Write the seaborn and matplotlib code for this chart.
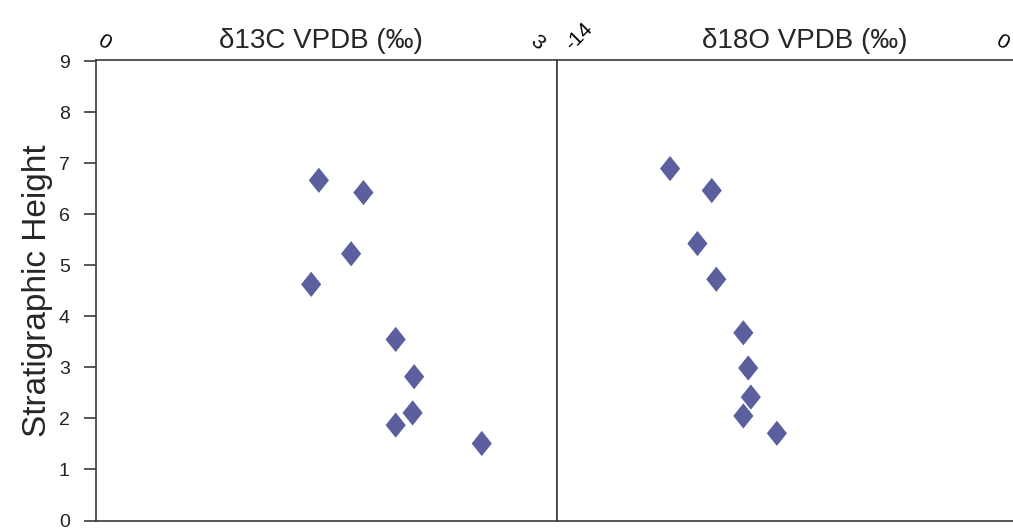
import numpy as np
import pandas as pd
import matplotlib
matplotlib.use("Agg")
import matplotlib.pyplot as plt
import matplotlib.transforms as mtransforms
import seaborn as sns

# values
c13_x = [1.45, 1.74, 1.66, 1.40, 1.95, 2.07, 2.06, 1.95, 2.51]
c13_h = [6.67, 6.43, 5.23, 4.63, 3.55, 2.82, 2.11, 1.87, 1.51]
o18_x = [-10.53, -9.25, -9.69, -9.11, -8.28, -8.13, -8.05, -8.28, -7.25]
o18_h = [6.90, 6.47, 5.43, 4.73, 3.68, 2.99, 2.42, 2.05, 1.71]
height_ticks = list(range(0, 10))

c13 = pd.DataFrame({"d13C": c13_x, "height": c13_h})
o18 = pd.DataFrame({"d18O": o18_x, "height": o18_h})

sns.set_theme(style="white")
plt.rcParams["font.family"] = ["Liberation Sans", "DejaVu Sans"]

dark = "#3a3a3a"
col = "#5c5f9e"
diamond = [(0, 1), (0.8, 0), (0, -1), (-0.8, 0)]

fig = plt.figure(figsize=(10.13, 5.28), dpi=100)
ax1 = fig.add_axes([0.0948, 0.0142, 0.4551, 0.8713])
ax2 = fig.add_axes([0.5499, 0.0142, 0.4501, 0.8713])

sns.scatterplot(data=c13, x="d13C", y="height", ax=ax1, marker=diamond,
                s=330, color=col, edgecolor="none", linewidth=0)
sns.scatterplot(data=o18, x="d18O", y="height", ax=ax2, marker=diamond,
                s=330, color=col, edgecolor="none", linewidth=0)

ax1.set_xlim(0, 3)
ax2.set_xlim(-14, 0)
for ax in (ax1, ax2):
    ax.set_ylim(0, 9.02)
    ax.set_xlabel("")
    ax.set_ylabel("")
    for s in ax.spines.values():
        s.set_color(dark)
        s.set_linewidth(1.2)
    ax.xaxis.set_ticks_position("top")
    ax.tick_params(axis="x", length=0, pad=5, labelsize=15, colors="black")
ax2.spines["right"].set_visible(False)

ax1.set_yticks(height_ticks)
ax1.tick_params(axis="y", left=True, length=9, width=1.2, color=dark,
                pad=10, labelsize=14, labelcolor="#222222")
ax2.set_yticks([])
ax1.set_ylabel("Stratigraphic Height", fontsize=24, labelpad=4)

ax1.set_xticks([0, 3])
ax1.set_xticklabels(["0", "3"])
ax2.set_xticks([-14, 0])
ax2.set_xticklabels(["-14", "0"])

# shift / rotate the top tick labels like the original
shifts = [(ax1, 0, 8, -30), (ax1, 1, -20, -40), (ax2, 0, 22, 45), (ax2, 1, -11, -30)]
for ax, i, dx, rot in shifts:
    lab = ax.get_xticklabels()[i]
    lab.set_rotation(rot)
    off = mtransforms.ScaledTranslation(dx / 100, 0, fig.dpi_scale_trans)
    lab.set_transform(lab.get_transform() + off)

fig.text(0.3164, 0.922, "δ13C VPDB (‰)", ha="center", va="center", fontsize=20)
fig.text(0.7947, 0.922, "δ18O VPDB (‰)", ha="center", va="center", fontsize=20)

fig.savefig("out.png", dpi=100)
